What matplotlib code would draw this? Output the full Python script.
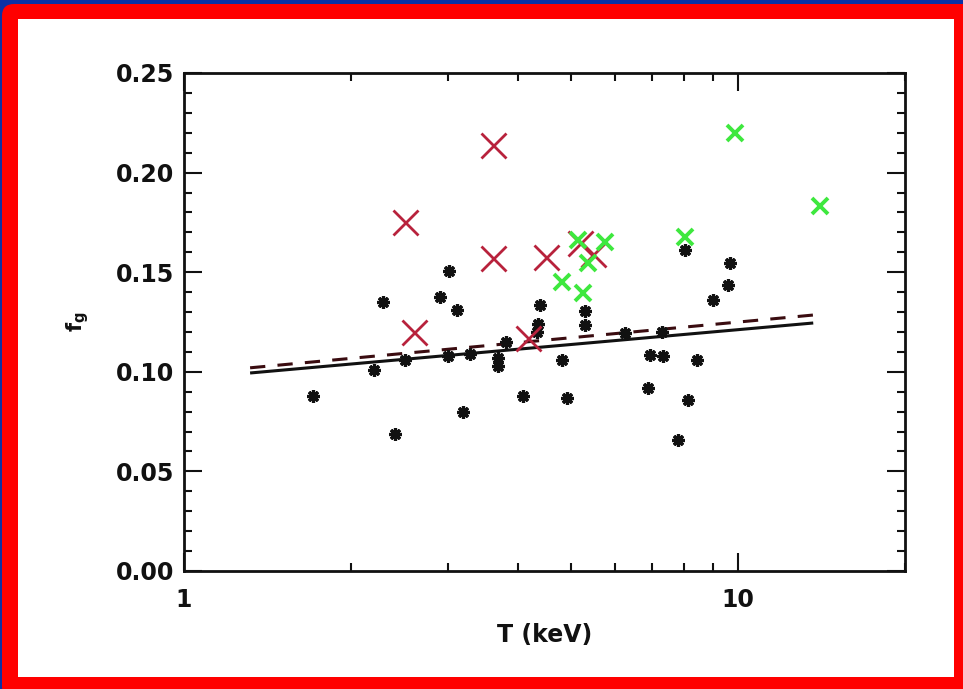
import matplotlib
matplotlib.use("Agg")
import matplotlib.pyplot as plt
from matplotlib.patches import FancyBboxPatch, Rectangle
from matplotlib.ticker import MultipleLocator, LogLocator, NullFormatter, FixedLocator, FixedFormatter

# black asterisks
T_black = [1.71, 2.29, 2.20, 2.40, 2.51, 2.90, 3.01, 3.11, 3.00, 3.19, 3.28, 3.69, 3.69,
           3.81, 4.09, 4.34, 4.39, 4.36, 4.81, 4.91, 5.30, 5.30, 6.25, 7.29, 6.94, 7.32,
           6.87, 8.43, 8.13, 7.79, 9.01, 9.59, 9.67, 8.02]
f_black = [0.088, 0.135, 0.101, 0.069, 0.106, 0.1375, 0.1506, 0.131, 0.108, 0.080, 0.109, 0.103, 0.107,
           0.115, 0.088, 0.120, 0.1335, 0.124, 0.106, 0.087, 0.1305, 0.1235, 0.1195, 0.120, 0.1084, 0.108,
           0.092, 0.106, 0.086, 0.066, 0.136, 0.1436, 0.1546, 0.161]

# red crosses
T_red = [2.50, 2.60, 3.61, 3.61, 4.50, 4.18, 5.19, 5.47]
f_red = [0.175, 0.120, 0.214, 0.157, 0.1576, 0.117, 0.1647, 0.159]

# green crosses
T_green = [4.81, 5.24, 5.75, 5.14, 5.36, 8.02, 9.88, 14.06]
f_green = [0.145, 0.1396, 0.165, 0.166, 0.1546, 0.1677, 0.220, 0.1832]

# fit lines (end points)
T_fit = [1.316, 13.66]
f_fit_solid = [0.0994, 0.1245]
f_fit_dashed = [0.102, 0.1285]

xticks = [1, 10]
xticklabels = ["1", "10"]
yticks = [0.00, 0.05, 0.10, 0.15, 0.20, 0.25]

W, H = 963, 689
fig = plt.figure(figsize=(W / 100, H / 100), dpi=100, facecolor="#0b31a5")

# red frame and white panel
red = FancyBboxPatch((2 / 100, -0.1), (W + 20) / 100, (H - 4) / 100 + 0.1,
                     boxstyle="round,pad=0,rounding_size=0.12",
                     transform=fig.dpi_scale_trans, facecolor="#ff0000",
                     edgecolor="none", zorder=-20)
white = Rectangle((18 / 100, (H - 677) / 100), (954 - 18) / 100, (677 - 19) / 100,
                  transform=fig.dpi_scale_trans, facecolor="white",
                  edgecolor="none", zorder=-10)
fig.patches.extend([red, white])

ax = fig.add_axes([184 / W, 1 - 571 / H, (905 - 184) / W, (571 - 73) / H])
ax.set_facecolor("white")

ax.plot(T_fit, f_fit_solid, color="#111111", lw=2.2, solid_capstyle="butt")
ax.plot(T_fit, f_fit_dashed, color="#3a0c10", lw=2.2, ls=(0, (5, 4)))

ax.plot(T_black, f_black, ls="none", marker=(8, 2, 0), ms=9, mew=2.3,
        color="#111111")
ax.plot(T_red, f_red, ls="none", marker="x", ms=18, mew=2.0, color="#b8223c")
ax.plot(T_green, f_green, ls="none", marker="x", ms=12, mew=2.8, color="#3ee83e")

ax.set_xscale("log")
ax.set_xlim(1, 20)
ax.set_ylim(0, 0.25)

ax.xaxis.set_major_locator(FixedLocator(xticks))
ax.xaxis.set_major_formatter(FixedFormatter(xticklabels))
ax.xaxis.set_minor_locator(LogLocator(base=10, subs=range(2, 10)))
ax.xaxis.set_minor_formatter(NullFormatter())
ax.set_yticks(yticks)
ax.set_yticklabels([f"{v:.2f}" for v in yticks])
ax.yaxis.set_minor_locator(MultipleLocator(0.01))

ax.tick_params(which="both", direction="in", top=True, right=True,
               width=1.5, colors="#111111", labelsize=17)
ax.tick_params(which="major", length=13)
ax.tick_params(which="minor", length=6)
ax.tick_params(axis="y", pad=7)
ax.tick_params(axis="x", pad=12)
for lab in ax.get_xticklabels() + ax.get_yticklabels():
    lab.set_fontweight("bold")

for sp in ax.spines.values():
    sp.set_linewidth(2.0)
    sp.set_color("#111111")

ax.set_xlabel("T (keV)", fontsize=17, fontweight="bold", color="#111111", labelpad=8)
ax.set_ylabel(r"$\mathbf{f_g}$", fontsize=15, color="#111111", labelpad=18)

fig.savefig("out.png", dpi=100, facecolor=fig.get_facecolor())
